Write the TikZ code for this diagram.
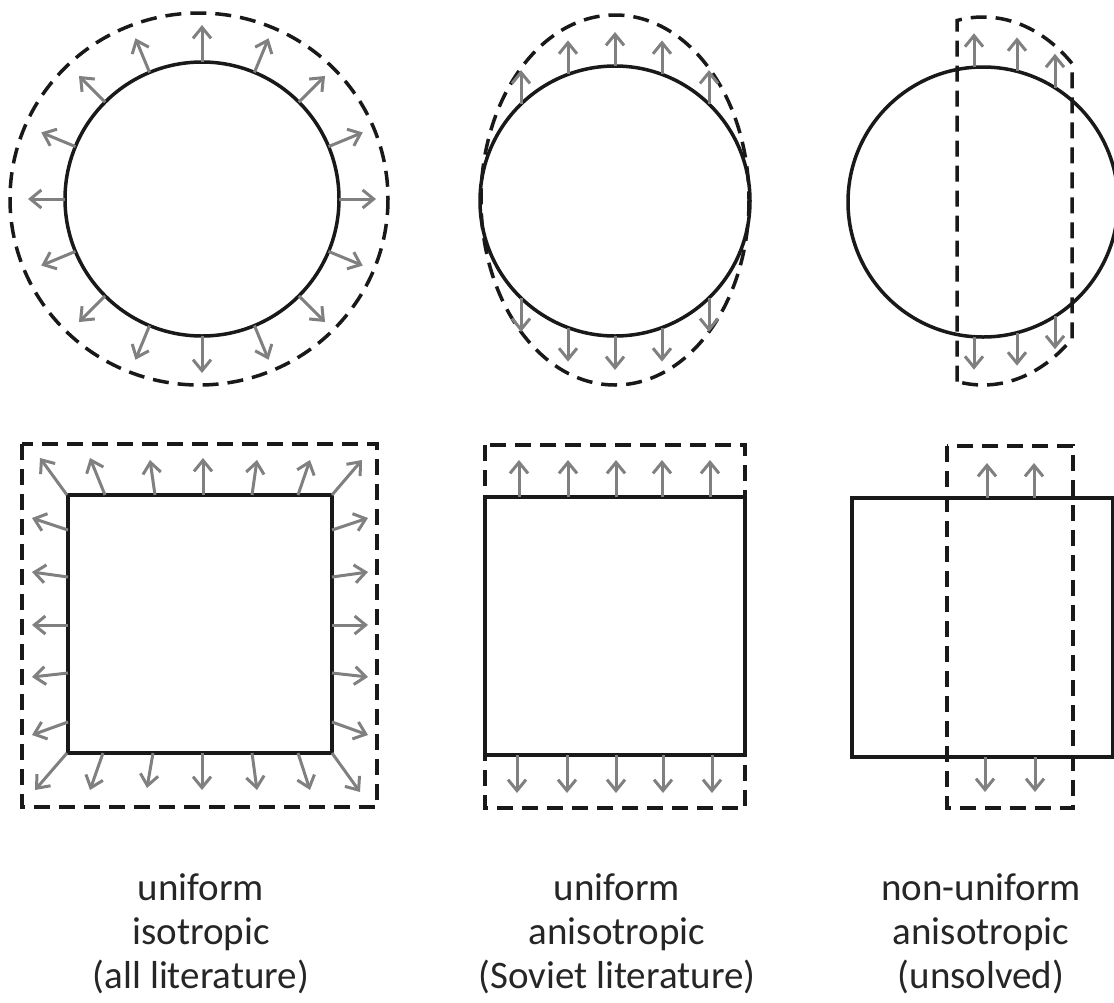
\documentclass[tikz,border=0pt]{standalone}
\usepackage{fontspec}
\setmainfont{Carlito}
\usetikzlibrary{arrows.meta,calc}

\tikzset{
  body/.style={line width=3.5pt, draw=black!90},
  outline/.style={line width=3.5pt, draw=black!90, dash pattern=on 16pt off 9pt},
  disp/.style={line width=3pt, draw=black!50,
    -{Straight Barb[length=11pt,width=18pt,line width=3pt]}},
  caption/.style={align=center, inner sep=0pt, text=black!85,
    font=\fontsize{39}{44}\selectfont}
}

\begin{document}
\begin{tikzpicture}[x=1pt,y=-1pt]
\useasboundingbox (0,0) rectangle (1114,1002);

% ---------- column 1: uniform isotropic ----------
\coordinate (c1) at (202,199);
\draw[outline] (199,199) ellipse[x radius=189, y radius=186];
\draw[body] (c1) circle[radius=137];
\foreach \a in {0,22.5,...,337.5}
  \draw[disp] ($(c1)+(\a:137)$) -- ($(c1)+(\a:174)$);

\draw[outline] (22,444) rectangle (377,807);
\draw[body] (68,495) rectangle (332,753);
% top edge
\foreach \bx/\tx/\ty in {67/40/458, 105/90/458, 155/150/460, 203/203/458,
                         252/257/460, 298/310/460, 332/362/460}
  \draw[disp] (\bx,495) -- (\tx,\ty);
% bottom edge
\foreach \bx/\tx/\ty in {67/35/790, 103/90/790, 153/147/788, 202/202/790,
                         252/257/790, 298/310/790, 332/360/792}
  \draw[disp] (\bx,753) -- (\tx,\ty);
% left and right edges
\foreach \by/\ty in {530/518, 577/572, 625/625, 673/677, 722/735}{
  \draw[disp] (68,\by) -- (32,\ty);
  \draw[disp] (332,\by) -- (368,\ty);
}

% ---------- column 2: uniform anisotropic ----------
\coordinate (c2) at (615,201);
\draw[outline] (615,200) ellipse[x radius=134, y radius=185];
\draw[body] (c2) circle[radius=135];
\foreach \dx/\h in {-94/96.9, -47/126.6, 0/135, 47/126.6, 94/96.9}{
  \draw[disp] ($(c2)+(\dx,-\h)$) -- ($(c2)+(\dx,-\h-34)$);
  \draw[disp] ($(c2)+(\dx,\h)$) -- ($(c2)+(\dx,\h+34)$);
}

\draw[outline] (485,445) rectangle (745,808);
\draw[body] (485,497) rectangle (745,755);
\foreach \x in {519,568,616,662,710}
  \draw[disp] (\x,497) -- (\x,460);
\foreach \x in {517,567,616,663,712}
  \draw[disp] (\x,755) -- (\x,793);

% ---------- column 3: non-uniform anisotropic ----------
\coordinate (c3) at (983,202);
\draw[outline] (957,381.5) -- (957,20.5)
  arc[start angle=-101.2, end angle=-48.4, x radius=134, y radius=184]
  -- (1072,338.6)
  arc[start angle=48.4, end angle=101.2, x radius=134, y radius=184];
\draw[body] (c3) circle[radius=135];
\foreach \dx/\h in {-9/134.7, 34/130.6, 72/114.2}{
  \draw[disp] ($(c3)+(\dx,-\h)$) -- ($(c3)+(\dx,-\h-34)$);
  \draw[disp] ($(c3)+(\dx,\h)$) -- ($(c3)+(\dx,\h+33)$);
}

\draw[outline] (947,446) rectangle (1073,808);
\draw[body] (852,498) rectangle (1113,757);
\foreach \x in {987,1034}
  \draw[disp] (\x,498) -- (\x,463);
\foreach \x in {985,1035}
  \draw[disp] (\x,757) -- (\x,792);

% ---------- captions ----------
\node[caption, anchor=base] (lab1) at (201,988) {uniform\\isotropic\\(all literature)};
\node[caption, anchor=base] (lab2) at (617,988) {uniform\\anisotropic\\(Soviet literature)};
\node[caption, anchor=base] (lab3) at (981,988) {non-uniform\\anisotropic\\(unsolved)};
\end{tikzpicture}
\end{document}
